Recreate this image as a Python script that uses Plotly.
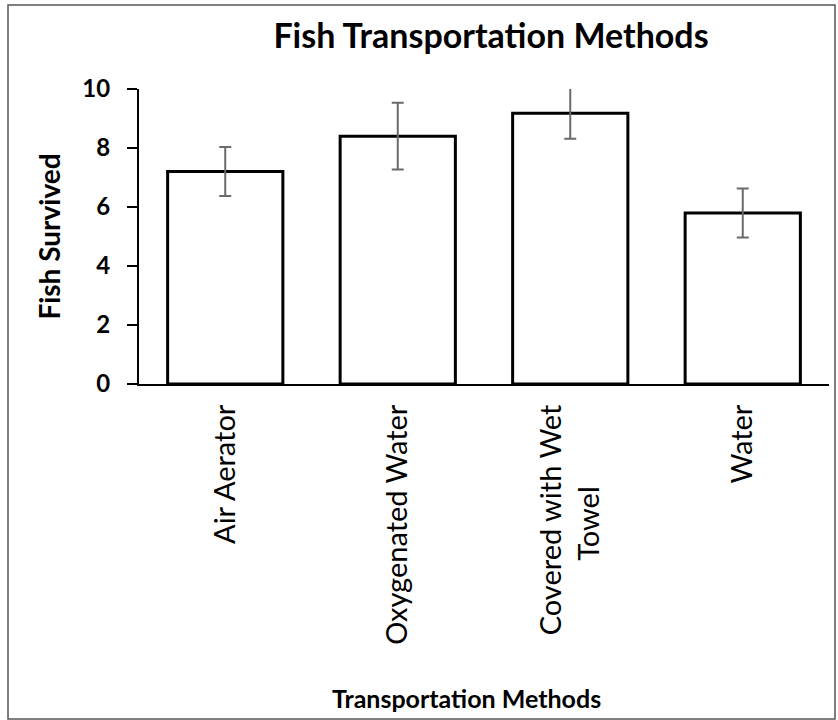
import plotly.graph_objects as go

categories = ["Air Aerator", "Oxygenated Water",
              "Covered with Wet<br>Towel" + "&nbsp;" * 11, "Water"]
fish_survived = [7.2, 8.4, 9.18, 5.8]
error_values = [0.83, 1.13, 0.87, 0.83]
y_ticks = [0, 2, 4, 6, 8, 10]

FONT = "Lato, 'Open Sans', sans-serif"

fig = go.Figure()
fig.add_trace(go.Bar(
    x=categories,
    y=fish_survived,
    width=0.668,
    marker=dict(color="white", line=dict(color="black", width=3)),
    error_y=dict(type="data", array=error_values, visible=True,
                 color="#6a6a6a", thickness=2, width=6),
))

fig.update_layout(
    width=838, height=720,
    margin=dict(l=139, r=9, t=89, b=336),
    paper_bgcolor="white", plot_bgcolor="white",
    showlegend=False,
    title=dict(text="<b>Fish Transportation Methods</b>", x=491 / 838, xanchor="center",
               y=1 - 36 / 720, yanchor="middle",
               font=dict(family=FONT, size=34, color="black")),
    font=dict(family=FONT, color="black"),
)
fig.update_yaxes(
    range=[0, 10], tickvals=y_ticks, showgrid=False, zeroline=False,
    showline=True, linecolor="black", linewidth=2,
    ticks="outside", ticklen=10, tickwidth=2, tickcolor="black",
    ticklabelstandoff=12,
    tickfont=dict(family=FONT, size=24, color="black", weight="bold"),
    title=dict(text="<b>Fish Survived</b>", font=dict(family=FONT, size=28, color="black"),
               standoff=14),
)
fig.update_xaxes(
    showgrid=False, showline=True, linecolor="black", linewidth=2,
    ticks="outside", ticklen=7, tickcolor="rgba(0,0,0,0)", tickangle=-90,
    tickfont=dict(family=FONT, size=29, color="black"),
)
fig.add_annotation(text="<b>Transportation Methods</b>", xref="paper", yref="paper",
                   x=(466 - 139) / 690, y=(384 - 698) / 295, xanchor="center", yanchor="middle",
                   showarrow=False, font=dict(family=FONT, size=25, color="black"))
fig.add_shape(type="rect", xref="paper", yref="paper",
              x0=(8 - 139) / 690, x1=(835 - 139) / 690,
              y0=(384 - 719) / 295, y1=(384 - 5) / 295,
              line=dict(color="#555555", width=1.5), fillcolor="rgba(0,0,0,0)", layer="below")

fig.write_html("out.html", config={"displayModeBar": False},
               post_script="document.body.style.margin='0';document.body.style.overflow='hidden';")
